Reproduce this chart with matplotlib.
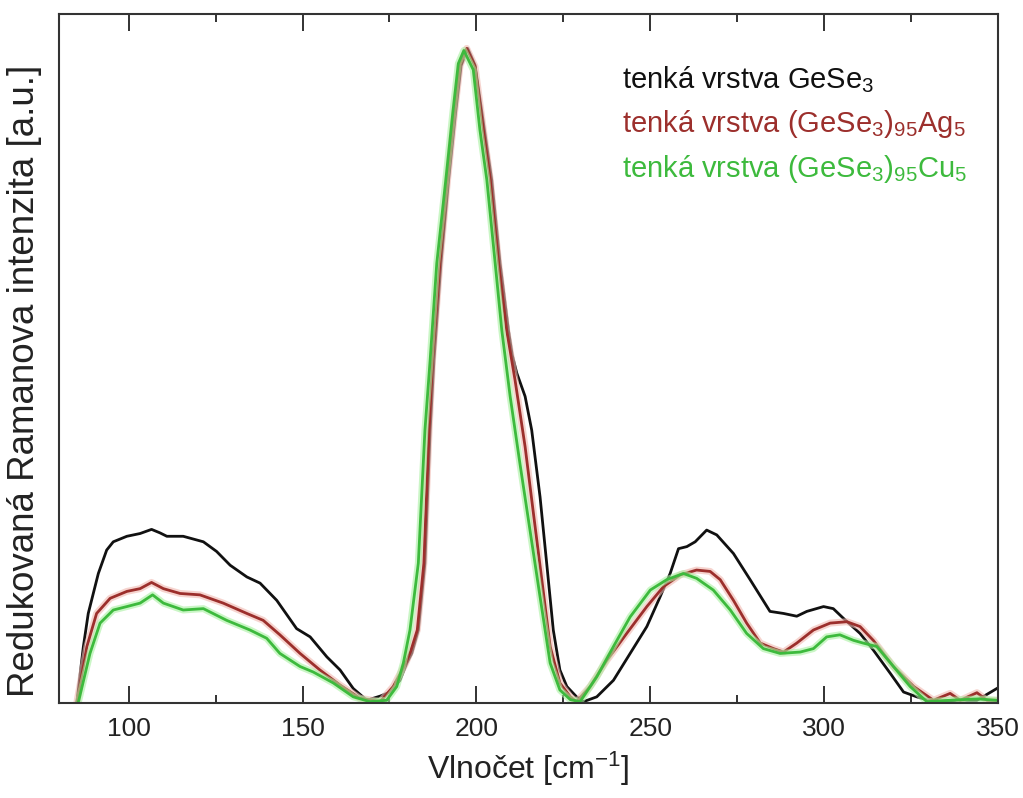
import numpy as np
import matplotlib.pyplot as plt
from matplotlib.ticker import MultipleLocator

plt.rcParams['font.family'] = ['Liberation Sans', 'DejaVu Sans']
plt.rcParams['mathtext.fontset'] = 'custom'
plt.rcParams['mathtext.rm'] = 'Liberation Sans'
plt.rcParams['mathtext.it'] = 'Liberation Sans'

# GeSe3 (cerna)
x_gese = [85.1, 87.0, 88.4, 91.3, 93.7, 95.6, 99.5, 103.3, 106.6, 109.0, 111.0, 115.7,
          121.5, 125.3, 129.2, 134.0, 137.8, 142.6, 148.3, 152.2, 157.0, 160.8, 164.6,
          168.5, 172.3, 175.2, 178.0, 180.0, 181.4, 183.3, 185.2, 186.7, 187.8, 189.8,
          192.0, 194.0, 195.6, 197.5, 199.6, 202.3, 204.4, 206.8, 209.2, 210.3, 211.6,
          214.0, 215.9, 218.3, 220.2, 222.1, 224.0, 226.0, 228.8, 230.8, 234.6, 239.4,
          244.2, 249.0, 252.8, 255.7, 258.1, 260.5, 262.9, 266.2, 269.1, 273.9, 278.7,
          284.4, 288.3, 292.1, 295.0, 299.8, 302.6, 305.5, 310.3, 314.1, 319.0, 322.8,
          326.6, 331.4, 338.1, 343.9, 349.6]
y_gese = [0.0, 0.082, 0.130, 0.188, 0.222, 0.234, 0.242, 0.246, 0.252, 0.247, 0.242, 0.242,
          0.234, 0.220, 0.200, 0.183, 0.174, 0.149, 0.108, 0.096, 0.067, 0.048, 0.021,
          0.004, 0.010, 0.016, 0.033, 0.058, 0.072, 0.106, 0.203, 0.396, 0.498, 0.638,
          0.759, 0.856, 0.925, 0.950, 0.926, 0.832, 0.759, 0.638, 0.541, 0.505, 0.479,
          0.445, 0.396, 0.299, 0.203, 0.106, 0.048, 0.024, 0.009, 0.002, 0.009, 0.033,
          0.072, 0.111, 0.154, 0.188, 0.224, 0.227, 0.234, 0.251, 0.244, 0.217, 0.179,
          0.133, 0.130, 0.126, 0.133, 0.140, 0.137, 0.123, 0.101, 0.077, 0.043, 0.016,
          0.009, 0.002, 0.004, 0.004, 0.021]

# (GeSe3)95Ag5 (cervena)
x_ag = [85.1, 88.0, 90.8, 94.7, 99.5, 103.3, 106.6, 110.0, 114.8, 120.5, 127.2, 134.0,
        138.7, 143.5, 149.3, 155.0, 160.8, 166.5, 172.3, 176.1, 179.7, 181.1, 183.0,
        184.9, 186.4, 187.4, 189.5, 191.7, 193.7, 195.3, 197.2, 199.6, 202.0, 204.0,
        206.4, 208.7, 211.1, 214.0, 216.4, 218.8, 221.2, 224.0, 227.0, 228.8, 232.7,
        237.5, 243.2, 249.0, 253.8, 258.6, 263.3, 267.2, 270.1, 273.9, 277.7, 281.6,
        285.4, 288.3, 292.1, 296.9, 301.7, 306.5, 310.3, 314.1, 319.9, 325.7, 331.4,
        336.2, 339.1, 343.9, 346.8, 349.6]
y_ag = [0.0, 0.082, 0.130, 0.152, 0.162, 0.166, 0.175, 0.166, 0.159, 0.157, 0.145, 0.130,
        0.120, 0.099, 0.072, 0.048, 0.026, 0.007, 0.002, 0.024, 0.058, 0.075, 0.106,
        0.203, 0.396, 0.498, 0.638, 0.759, 0.856, 0.925, 0.950, 0.924, 0.832, 0.759,
        0.638, 0.541, 0.469, 0.372, 0.275, 0.179, 0.082, 0.029, 0.009, 0.002, 0.024,
        0.062, 0.101, 0.140, 0.169, 0.186, 0.193, 0.191, 0.179, 0.149, 0.116, 0.087,
        0.079, 0.074, 0.087, 0.106, 0.116, 0.118, 0.111, 0.091, 0.053, 0.024, 0.004,
        0.014, 0.004, 0.015, 0.004, 0.004]

# (GeSe3)95Cu5 (zelena)
x_cu = [85.5, 88.9, 91.8, 95.6, 99.5, 103.3, 106.9, 110.0, 115.7, 121.5, 128.2, 134.9,
        139.7, 143.5, 149.3, 153.1, 158.9, 164.6, 169.4, 174.2, 177.1, 179.0, 180.9,
        183.3, 185.2, 186.7, 188.6, 191.2, 193.2, 194.8, 196.4, 199.1, 201.0, 203.0,
        205.4, 207.3, 208.5, 209.7, 212.5, 215.4, 218.3, 221.2, 224.0, 227.0, 229.8,
        234.6, 239.4, 244.2, 250.0, 254.7, 259.5, 263.3, 268.1, 273.0, 277.7, 282.5,
        287.3, 293.1, 296.9, 300.7, 304.5, 308.4, 311.2, 315.1, 319.9, 324.7, 329.5,
        336.2, 344.0, 349.6]
y_cu = [0.0, 0.072, 0.116, 0.135, 0.140, 0.145, 0.157, 0.145, 0.135, 0.137, 0.120, 0.106,
        0.094, 0.072, 0.053, 0.045, 0.029, 0.009, 0.002, 0.004, 0.024, 0.058, 0.106,
        0.203, 0.396, 0.498, 0.638, 0.759, 0.856, 0.928, 0.947, 0.919, 0.832, 0.759,
        0.638, 0.541, 0.493, 0.445, 0.348, 0.251, 0.154, 0.058, 0.019, 0.005, 0.002,
        0.038, 0.082, 0.125, 0.164, 0.179, 0.188, 0.181, 0.164, 0.135, 0.101, 0.079,
        0.072, 0.074, 0.079, 0.096, 0.099, 0.091, 0.087, 0.082, 0.053, 0.024, 0.002,
        0.004, 0.006, 0.004]

popisky = ['tenká vrstva GeSe$_3$',
           'tenká vrstva (GeSe$_3$)$_{95}$Ag$_5$',
           'tenká vrstva (GeSe$_3$)$_{95}$Cu$_5$']
barvy = ['#111111', '#9c2f2c', '#3dba3d']
zare = [None, '#f0b8b0', '#a8f0a0']

fig = plt.figure(figsize=(10.23, 7.98), dpi=100)
ax = fig.add_axes([0.0577, 0.119, 0.918, 0.8635])

krivky = [(x_gese, y_gese), (x_ag, y_ag), (x_cu, y_cu)]
for (xs, ys), barva, zar in zip(krivky, barvy, zare):
    if zar is not None:
        ax.plot(xs, ys, color=zar, lw=5, alpha=0.6, solid_joinstyle='round',
                solid_capstyle='round')
    ax.plot(xs, ys, color=barva, lw=2.0, solid_joinstyle='round')

ax.set_xlim(80, 350)
ax.set_ylim(0, 1.0)
ax.xaxis.set_major_locator(MultipleLocator(50))
ax.xaxis.set_minor_locator(MultipleLocator(25))
ax.tick_params(axis='x', which='major', direction='in', length=12, width=1.3,
               top=True, labelsize=19, pad=10, colors='#222222')
ax.tick_params(axis='x', which='minor', direction='in', length=6, width=1.3, top=True,
               colors='#222222')
ax.set_yticks([])
for s in ax.spines.values():
    s.set_linewidth(1.5)
    s.set_color('#333333')

ax.set_xlabel('Vlnočet [cm$^{-1}$]', fontsize=23, labelpad=6, color='#222222')
ax.set_ylabel('Redukovaná Ramanova intenzita [a.u.]', fontsize=26.5, color='#222222')
ax.yaxis.set_label_coords(-0.018, 0.467)

for i, (txt, barva) in enumerate(zip(popisky, barvy)):
    ax.text(0.60, 0.905 - i * 0.065, txt, transform=ax.transAxes, fontsize=21,
            color=barva, va='center', ha='left')

fig.savefig('out.png', dpi=100)
